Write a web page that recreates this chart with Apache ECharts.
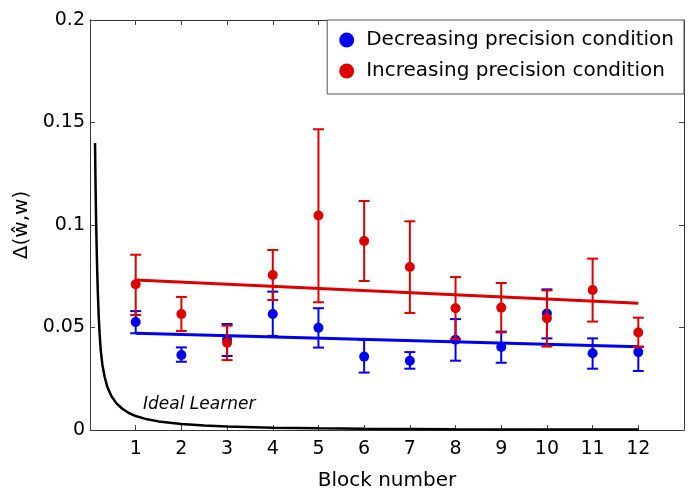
<!DOCTYPE html>
<html>
<head>
<meta charset="utf-8">
<script src="https://cdn.jsdelivr.net/npm/echarts@6/dist/echarts.min.js"></script>
<style>
html,body{margin:0;padding:0;background:#fff;}
#chart{width:690px;height:494px;}
</style>
</head>
<body>
<div id="chart"></div>
<script>
// ---- data ----
const blocks = [1,2,3,4,5,6,7,8,9,10,11,12];
const xTickLabels = ['1','2','3','4','5','6','7','8','9','10','11','12'];
const yTickLabels = ['0','0.05','0.1','0.15','0.2'];

const decMean = [0.0527,0.0366,0.0440,0.0566,0.0499,0.0358,0.0338,0.0440,0.0405,0.0568,0.0374,0.0380];
const decLow  = [0.0472,0.0333,0.0361,0.0459,0.0402,0.0280,0.0299,0.0338,0.0328,0.0447,0.0299,0.0288];
const decHigh = [0.0580,0.0403,0.0517,0.0675,0.0594,0.0439,0.0380,0.0541,0.0480,0.0686,0.0447,0.0407];

const incMean = [0.0711,0.0566,0.0426,0.0756,0.1046,0.0922,0.0795,0.0594,0.0597,0.0545,0.0683,0.0476];
const incLow  = [0.0561,0.0483,0.0341,0.0634,0.0623,0.0727,0.0571,0.0444,0.0476,0.0407,0.0529,0.0405];
const incHigh = [0.0855,0.0649,0.0509,0.0878,0.1467,0.1117,0.1018,0.0746,0.0717,0.0681,0.0836,0.0548];

const decFitX = [1, 12];
const decFitY = [0.0472, 0.0406];
const incFitX = [1, 12];
const incFitY = [0.0732, 0.0618];

const idealX = [0.11,0.12,0.13,0.14,0.155,0.17,0.19,0.21,0.235,0.27,0.32,0.38,0.47,0.58,0.70,0.85,1.0,1.25,1.5,2.0,2.5,3.0,4.0,5.0,6.0,8.0,10.0,12.0];
const idealY = [0.140,0.122,0.107,0.095,0.080,0.068,0.056,0.047,0.039,0.032,0.026,0.021,0.0165,0.013,0.0105,0.0083,0.0068,0.0052,0.0042,0.0029,0.0022,0.0017,0.0011,0.0008,0.0006,0.0004,0.0003,0.0002];

const seriesNames = ['Decreasing precision condition','Increasing precision condition'];
const colors = {dec:'#0000f0', inc:'#dd0000'};

// ---- chart ----
const FONT = 'DejaVu Sans';
const chart = echarts.init(document.getElementById('chart'), null, {renderer:'canvas'});

function errorBarSeries(low, high, color, z){
  return {
    type:'custom',
    silent:true,
    z:z,
    data: blocks.map((b,i)=>[b, low[i], high[i]]),
    encode:{x:0, y:[1,2]},
    renderItem:function(params, api){
      const x = api.value(0);
      const pLo = api.coord([x, api.value(1)]);
      const pHi = api.coord([x, api.value(2)]);
      const hw = 5.5;
      const st = {stroke:color, lineWidth:2};
      return {type:'group', children:[
        {type:'line', shape:{x1:pLo[0],y1:pLo[1],x2:pHi[0],y2:pHi[1]}, style:st},
        {type:'line', shape:{x1:pLo[0]-hw,y1:pLo[1],x2:pLo[0]+hw,y2:pLo[1]}, style:st},
        {type:'line', shape:{x1:pHi[0]-hw,y1:pHi[1],x2:pHi[0]+hw,y2:pHi[1]}, style:st}
      ]};
    }
  };
}

const axisLineStyle = {show:true, onZero:false, lineStyle:{color:'#333', width:1}};
const tickStyle = {show:true, inside:true, length:5, lineStyle:{color:'#444', width:1}};

const option = {
  animation:false,
  backgroundColor:'#fff',
  grid:{left:90, right:6, top:20, bottom:64, containLabel:false, outerBoundsMode:'none'},
  xAxis:[{
    type:'value', min:0, max:13, interval:1, position:'bottom',
    axisLine:axisLineStyle, axisTick:tickStyle, splitLine:{show:false},
    axisLabel:{margin:10, fontSize:19, fontFamily:FONT, color:'#000',
      formatter:function(v){ const i = blocks.indexOf(v); return i>=0 ? xTickLabels[i] : ''; }},
    name:'Block number', nameLocation:'middle', nameGap:41,
    nameTextStyle:{fontSize:20, fontFamily:FONT, color:'#000'}
  },{
    type:'value', min:0, max:13, interval:1, position:'top',
    axisLine:axisLineStyle, axisTick:tickStyle, splitLine:{show:false},
    axisLabel:{show:false}
  }],
  yAxis:[{
    type:'value', min:0, max:0.2, interval:0.05, position:'left',
    axisLine:axisLineStyle, axisTick:tickStyle, splitLine:{show:false},
    axisLabel:{margin:5, fontSize:19, fontFamily:FONT, color:'#000',
      formatter:function(v){ return yTickLabels[Math.round(v/0.05)]; }},
    name:'\u0394(\u0175,w)', nameLocation:'middle', nameGap:48, nameRotate:90,
    nameTextStyle:{fontSize:20, fontFamily:FONT, color:'#000'}
  },{
    type:'value', min:0, max:0.2, interval:0.05, position:'right',
    axisLine:axisLineStyle, axisTick:tickStyle, splitLine:{show:false},
    axisLabel:{show:false}
  }],
  legend:{
    data:seriesNames, orient:'vertical', right:6, top:20,
    padding:[9,10,12,12], itemGap:9, itemWidth:15, itemHeight:15, icon:'circle',
    backgroundColor:'#fff', borderColor:'#555', borderWidth:1, borderRadius:0,
    textStyle:{fontSize:20, fontFamily:FONT, color:'#000', lineHeight:22, padding:[0,0,0,7]},
    selectedMode:false, z:20
  },
  series:[
    {
      name:'Ideal learner', type:'line', data: idealX.map((x,i)=>[x, idealY[i]]),
      showSymbol:false, smooth:false, silent:true,
      lineStyle:{color:'#000', width:2.5}, z:2
    },
    errorBarSeries(decLow, decHigh, colors.dec, 3),
    {
      name:seriesNames[0], type:'scatter', data: blocks.map((b,i)=>[b, decMean[i]]),
      symbol:'circle', symbolSize:10, itemStyle:{color:colors.dec, opacity:1}, z:4
    },
    {
      name:'dec fit', type:'line', data: decFitX.map((x,i)=>[x, decFitY[i]]),
      showSymbol:false, silent:true, lineStyle:{color:colors.dec, width:3}, z:5
    },
    errorBarSeries(incLow, incHigh, colors.inc, 6),
    {
      name:seriesNames[1], type:'scatter', data: blocks.map((b,i)=>[b, incMean[i]]),
      symbol:'circle', symbolSize:10, itemStyle:{color:colors.inc, opacity:1}, z:7
    },
    {
      name:'inc fit', type:'line', data: incFitX.map((x,i)=>[x, incFitY[i]]),
      showSymbol:false, silent:true, lineStyle:{color:colors.inc, width:3}, z:8
    }
  ],
  graphic:[{
    type:'text', left:143, top:396, silent:true,
    style:{text:'Ideal Learner', fontSize:17, fontStyle:'italic', fontFamily:FONT, fill:'#000'}
  }]
};
chart.setOption(option);
</script>
</body>
</html>
